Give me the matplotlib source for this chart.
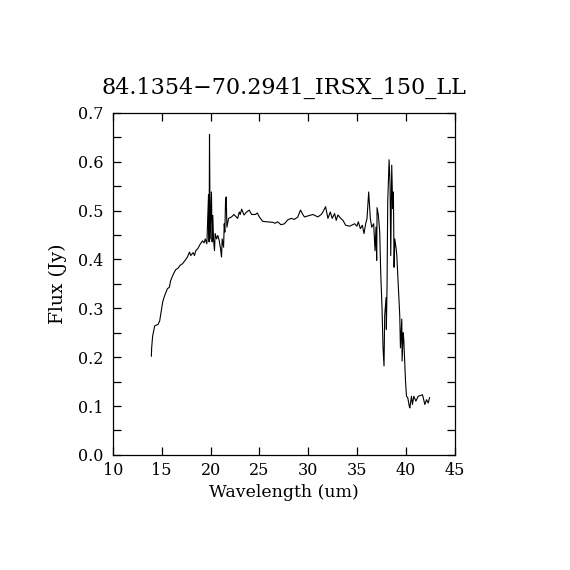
"""
IRS spectrum plot: 84.1354-70.2941_IRSX_150_LL
PGPLOT-style box, serif text
"""

import numpy as np
import matplotlib
matplotlib.use('Agg')
import matplotlib.pyplot as plt
from matplotlib.ticker import MultipleLocator, FormatStrFormatter

# ── Data ───────────────────────────────────────────────────────────────
WAVE = [
    13.94, 13.97, 14.07, 14.28, 14.62, 14.79, 14.96, 15.10, 15.30, 15.58,
    15.78, 15.92, 16.19, 16.43, 16.67, 16.88, 17.12, 17.39, 17.63, 17.84,
    17.97, 18.21, 18.35, 18.49, 18.69, 18.93, 19.17, 19.34, 19.45, 19.62,
    19.79, 19.85, 19.89, 19.96, 20.09, 20.16, 20.23, 20.30, 20.40, 20.47,
    20.61, 20.74, 20.88, 21.02, 21.12, 21.19, 21.33, 21.40, 21.46, 21.53,
    21.60, 21.67, 21.84, 22.15, 22.39, 22.77, 22.94, 23.04, 23.18, 23.42,
    23.69, 23.96, 24.20, 24.58, 24.78, 24.99, 25.33, 25.74, 26.36, 26.60,
    26.87, 27.21, 27.56, 27.90, 28.24, 28.58, 28.93, 29.20, 29.44, 29.61,
    29.95, 30.47, 30.98, 31.32, 31.49, 31.77, 32.01, 32.25, 32.45, 32.69,
    32.86, 33.03, 33.37, 33.55, 33.82, 34.23, 34.74, 34.98, 35.12, 35.33,
    35.53, 35.70, 35.87, 36.01, 36.18, 36.35, 36.49, 36.69, 36.83, 36.93,
    37.00, 37.04, 37.17, 37.31, 37.41, 37.55, 37.65, 37.75, 37.82, 37.96,
    37.99, 38.06, 38.13, 38.27, 38.37, 38.44, 38.54, 38.64, 38.71, 38.78,
    38.85, 38.99, 39.06, 39.23, 39.36, 39.43, 39.57, 39.60, 39.71, 39.77,
    39.95, 40.05, 40.18, 40.32, 40.39, 40.56, 40.66, 40.80, 41.01, 41.25,
    41.69, 41.93, 42.10, 42.27, 42.41,
]
FLUX = [
    0.202, 0.219, 0.243, 0.264, 0.267, 0.274, 0.295, 0.313, 0.326, 0.340,
    0.343, 0.357, 0.370, 0.379, 0.382, 0.388, 0.391, 0.398, 0.405, 0.415,
    0.408, 0.414, 0.408, 0.418, 0.422, 0.431, 0.438, 0.434, 0.442, 0.432,
    0.533, 0.436, 0.656, 0.442, 0.538, 0.436, 0.490, 0.442, 0.418, 0.453,
    0.442, 0.449, 0.439, 0.422, 0.405, 0.442, 0.425, 0.473, 0.456, 0.518,
    0.528, 0.466, 0.484, 0.487, 0.492, 0.484, 0.497, 0.492, 0.503, 0.491,
    0.497, 0.501, 0.492, 0.492, 0.495, 0.487, 0.478, 0.477, 0.476, 0.474,
    0.477, 0.471, 0.473, 0.481, 0.484, 0.482, 0.487, 0.501, 0.492, 0.487,
    0.489, 0.492, 0.487, 0.492, 0.497, 0.508, 0.484, 0.497, 0.484, 0.494,
    0.480, 0.491, 0.483, 0.480, 0.470, 0.468, 0.473, 0.468, 0.477, 0.463,
    0.470, 0.453, 0.473, 0.484, 0.538, 0.484, 0.466, 0.473, 0.418, 0.466,
    0.398, 0.506, 0.491, 0.456, 0.374, 0.298, 0.219, 0.182, 0.285, 0.322,
    0.257, 0.346, 0.518, 0.604, 0.552, 0.408, 0.593, 0.504, 0.538, 0.384,
    0.442, 0.422, 0.408, 0.340, 0.285, 0.219, 0.278, 0.192, 0.250, 0.237,
    0.151, 0.120, 0.117, 0.101, 0.096, 0.120, 0.103, 0.120, 0.110, 0.120,
    0.123, 0.103, 0.113, 0.106, 0.117,
]

TITLE = '84.1354\u221270.2941_IRSX_150_LL'

plt.rcParams['font.family'] = ['DejaVu Serif']

# ── Plot ────────────────────────────────────────────────────────────────
fig = plt.figure(figsize=(5.7, 5.7), dpi=100)
fig.patch.set_facecolor('white')
ax = fig.add_axes([0.198, 0.202, 0.600, 0.600])

ax.plot(WAVE, FLUX, color='black', lw=0.8)

ax.set_xlim(10, 45)
ax.set_ylim(0.0, 0.7)
ax.xaxis.set_major_locator(MultipleLocator(5))
ax.yaxis.set_major_locator(MultipleLocator(0.1))
ax.yaxis.set_minor_locator(MultipleLocator(0.05))
ax.yaxis.set_major_formatter(FormatStrFormatter('%.1f'))

for spine in ax.spines.values():
    spine.set_linewidth(0.9)
ax.tick_params(which='both', direction='in', top=True, right=True,
               width=0.9, labelsize=11.5)
ax.tick_params(which='major', length=6)
ax.tick_params(which='minor', length=6)
ax.tick_params(axis='x', which='minor', bottom=False, top=False)
ax.tick_params(axis='x', pad=5)
ax.tick_params(axis='y', pad=7)

ax.set_xlabel('Wavelength (um)', fontsize=12.5, labelpad=4)
ax.set_ylabel('Flux (Jy)', fontsize=13.5, labelpad=8)
ax.set_title(TITLE, fontsize=16, pad=14)

fig.savefig('out.png', dpi=100, facecolor='white')
